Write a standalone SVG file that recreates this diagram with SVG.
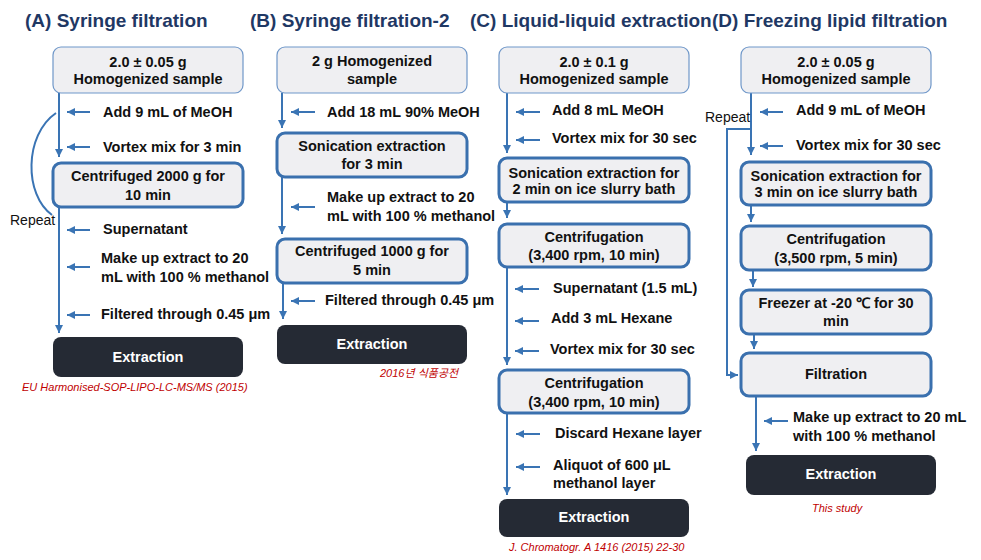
<svg xmlns="http://www.w3.org/2000/svg" width="981" height="560" viewBox="0 0 981 560">
<defs>
<marker id="ah" viewBox="0 0 8 8" refX="8" refY="4" markerWidth="8" markerHeight="8" markerUnits="userSpaceOnUse" orient="auto">
<path d="M0,0 L8,4 L0,8 z" fill="#3a74b4"/>
</marker>
<style>
.title{font-family:"Liberation Sans",Arial,sans-serif;font-weight:bold;font-size:19px;fill:#1f3864}
.t{font-family:"Liberation Sans",Arial,sans-serif;font-weight:bold;font-size:14.5px;fill:#111}
.c{text-anchor:middle}
.w{fill:#ffffff;font-size:14.5px}
.rep{font-family:"Liberation Sans",Arial,sans-serif;font-size:14px;fill:#111}
.cite{font-family:"Liberation Sans",Arial,"Noto Sans CJK KR",sans-serif;font-style:italic;font-size:11px;fill:#c00000}
.thin{fill:#efeff2;stroke:#6f97c9;stroke-width:1.2}
.thick{fill:#efeff2;stroke:#3a70ae;stroke-width:3}
.dark{fill:#252a34}
.ln{stroke:#3a74b4;stroke-width:2;fill:none}
</style>
</defs>
<rect width="981" height="560" fill="#ffffff"/>

<text class="title" x="25" y="27">(A) Syringe filtration</text>
<text class="title" x="250" y="27">(B) Syringe filtration-2</text>
<text class="title" x="470" y="27">(C) Liquid-liquid extraction</text>
<text class="title" x="712" y="27">(D) Freezing lipid filtration</text>

<g id="connectors">
<!-- A -->
<line class="ln" x1="59" y1="93" x2="59" y2="157" marker-end="url(#ah)"/>
<line class="ln" x1="90" y1="112" x2="67" y2="112" marker-end="url(#ah)"/>
<line class="ln" x1="90" y1="147" x2="67" y2="147" marker-end="url(#ah)"/>
<path class="ln" d="M56 113 C24 135 24 195 52 215"/>
<line class="ln" x1="59" y1="207" x2="59" y2="333" marker-end="url(#ah)"/>
<line class="ln" x1="90" y1="230" x2="67" y2="230" marker-end="url(#ah)"/>
<line class="ln" x1="90" y1="267" x2="67" y2="267" marker-end="url(#ah)"/>
<line class="ln" x1="90" y1="315" x2="67" y2="315" marker-end="url(#ah)"/>
<!-- B -->
<line class="ln" x1="282" y1="93" x2="282" y2="128" marker-end="url(#ah)"/>
<line class="ln" x1="315" y1="112" x2="291" y2="112" marker-end="url(#ah)"/>
<line class="ln" x1="282" y1="177" x2="282" y2="234" marker-end="url(#ah)"/>
<line class="ln" x1="315" y1="207" x2="291" y2="207" marker-end="url(#ah)"/>
<line class="ln" x1="283" y1="283" x2="283" y2="319" marker-end="url(#ah)"/>
<line class="ln" x1="315" y1="301" x2="291" y2="301" marker-end="url(#ah)"/>
<!-- C -->
<line class="ln" x1="507" y1="93" x2="507" y2="153" marker-end="url(#ah)"/>
<line class="ln" x1="540" y1="112" x2="516" y2="112" marker-end="url(#ah)"/>
<line class="ln" x1="540" y1="140" x2="516" y2="140" marker-end="url(#ah)"/>
<line class="ln" x1="507" y1="202" x2="507" y2="218" marker-end="url(#ah)"/>
<line class="ln" x1="507" y1="267" x2="507" y2="365" marker-end="url(#ah)"/>
<line class="ln" x1="539" y1="289" x2="515" y2="289" marker-end="url(#ah)"/>
<line class="ln" x1="539" y1="321" x2="515" y2="321" marker-end="url(#ah)"/>
<line class="ln" x1="539" y1="351" x2="515" y2="351" marker-end="url(#ah)"/>
<line class="ln" x1="507" y1="413" x2="507" y2="495" marker-end="url(#ah)"/>
<line class="ln" x1="540" y1="434" x2="516" y2="434" marker-end="url(#ah)"/>
<line class="ln" x1="540" y1="467" x2="516" y2="467" marker-end="url(#ah)"/>
<!-- D -->
<line class="ln" x1="751" y1="93" x2="751" y2="155" marker-end="url(#ah)"/>
<line class="ln" x1="783" y1="112" x2="760" y2="112" marker-end="url(#ah)"/>
<line class="ln" x1="783" y1="146" x2="760" y2="146" marker-end="url(#ah)"/>
<path class="ln" d="M751 129 H727 V375 H738" marker-end="url(#ah)"/>
<line class="ln" x1="751" y1="205" x2="751" y2="222" marker-end="url(#ah)"/>
<line class="ln" x1="753" y1="270" x2="753" y2="287" marker-end="url(#ah)"/>
<line class="ln" x1="754" y1="334" x2="754" y2="349" marker-end="url(#ah)"/>
<line class="ln" x1="756" y1="396" x2="756" y2="451" marker-end="url(#ah)"/>
<line class="ln" x1="788" y1="421" x2="764" y2="421" marker-end="url(#ah)"/>
</g>

<g id="labels">
<text class="rep" x="10" y="225">Repeat</text>
<text class="t" x="103" y="117">Add  9 mL of MeOH</text>
<text class="t" x="103" y="152">Vortex mix for 3 min</text>
<text class="t" x="103" y="234">Supernatant</text>
<text class="t" x="101" y="263">Make up extract to 20</text>
<text class="t" x="101" y="282">mL with 100 % methanol</text>
<text class="t" x="101" y="319">Filtered through 0.45 μm</text>
<text class="cite" x="22" y="391">EU Harmonised-SOP-LIPO-LC-MS/MS (2015)</text>

<text class="t" x="327" y="117">Add  18 mL 90% MeOH</text>
<text class="t" x="327" y="202">Make up extract to 20</text>
<text class="t" x="327" y="221">mL with 100 % methanol</text>
<text class="t" x="325" y="305">Filtered through 0.45 μm</text>
<text class="cite" x="380" y="377">2016년 식품공전</text>

<text class="t" x="552" y="115">Add  8 mL MeOH</text>
<text class="t" x="552" y="143">Vortex mix for 30 sec</text>
<text class="t" x="553" y="293">Supernatant (1.5 mL)</text>
<text class="t" x="551" y="323">Add  3 mL Hexane</text>
<text class="t" x="550" y="354">Vortex mix for 30 sec</text>
<text class="t" x="555" y="438">Discard Hexane layer</text>
<text class="t" x="553" y="470">Aliquot of 600 μL</text>
<text class="t" x="553" y="488">methanol layer</text>
<text class="cite" x="509" y="551">J. Chromatogr. A 1416 (2015) 22-30</text>

<text class="rep" x="705" y="122">Repeat</text>
<text class="t" x="796" y="115">Add  9 mL of MeOH</text>
<text class="t" x="796" y="150">Vortex mix for 30 sec</text>
<text class="t" x="793" y="422">Make up extract to 20 mL</text>
<text class="t" x="793" y="441">with 100 % methanol</text>
<text class="cite" x="812" y="512">This study</text>
</g>

<g id="A1"><rect class="thin" x="53" y="47" width="190" height="46" rx="8"/><text class="t c" x="148" y="67">2.0 ± 0.05 g</text><text class="t c" x="148" y="84">Homogenized sample</text></g>
<g id="A2"><rect class="thick" x="53" y="163" width="190" height="44" rx="8"/><text class="t c" x="148" y="181">Centrifuged 2000 g for</text><text class="t c" x="148" y="200">10 min</text></g>
<g id="A3"><rect class="dark" x="53" y="337" width="190" height="40" rx="8"/><text class="t c w" x="148" y="362">Extraction</text></g>

<g id="B1"><rect class="thin" x="277" y="47" width="190" height="46" rx="8"/><text class="t c" x="372" y="66">2 g Homogenized</text><text class="t c" x="372" y="84">sample</text></g>
<g id="B2"><rect class="thick" x="277" y="133" width="190" height="44" rx="8"/><text class="t c" x="372" y="151">Sonication extraction</text><text class="t c" x="372" y="169">for 3 min</text></g>
<g id="B3"><rect class="thick" x="277" y="239" width="190" height="44" rx="8"/><text class="t c" x="372" y="256">Centrifuged 1000 g for</text><text class="t c" x="372" y="275">5 min</text></g>
<g id="B4"><rect class="dark" x="277" y="325" width="190" height="39" rx="8"/><text class="t c w" x="372" y="349">Extraction</text></g>

<g id="C1"><rect class="thin" x="499" y="47" width="190" height="46" rx="8"/><text class="t c" x="594" y="67">2.0 ± 0.1 g</text><text class="t c" x="594" y="84">Homogenized sample</text></g>
<g id="C2"><rect class="thick" x="499" y="158" width="190" height="44" rx="8"/><text class="t c" x="594" y="178">Sonication extraction for</text><text class="t c" x="594" y="194">2 min on ice slurry bath</text></g>
<g id="C3"><rect class="thick" x="499" y="224" width="190" height="43" rx="8"/><text class="t c" x="594" y="242">Centrifugation</text><text class="t c" x="594" y="260">(3,400 rpm, 10 min)</text></g>
<g id="C4"><rect class="thick" x="499" y="370" width="190" height="43" rx="8"/><text class="t c" x="594" y="388">Centrifugation</text><text class="t c" x="594" y="407">(3,400 rpm, 10 min)</text></g>
<g id="C5"><rect class="dark" x="499" y="499" width="190" height="38" rx="8"/><text class="t c w" x="594" y="522">Extraction</text></g>

<g id="D1"><rect class="thin" x="741" y="47" width="190" height="46" rx="8"/><text class="t c" x="836" y="67">2.0 ± 0.05 g</text><text class="t c" x="836" y="84">Homogenized sample</text></g>
<g id="D2"><rect class="thick" x="741" y="162" width="190" height="43" rx="8"/><text class="t c" x="836" y="181">Sonication extraction for</text><text class="t c" x="836" y="197">3 min on ice slurry bath</text></g>
<g id="D3"><rect class="thick" x="741" y="226" width="190" height="44" rx="8"/><text class="t c" x="836" y="244">Centrifugation</text><text class="t c" x="836" y="263">(3,500 rpm, 5 min)</text></g>
<g id="D4"><rect class="thick" x="741" y="290" width="190" height="44" rx="8"/><text class="t c" x="836" y="308">Freezer at -20 ℃ for 30</text><text class="t c" x="836" y="326">min</text></g>
<g id="D5"><rect class="thick" x="741" y="353" width="190" height="43" rx="8"/><text class="t c" x="836" y="379">Filtration</text></g>
<g id="D6"><rect class="dark" x="746" y="455" width="190" height="40" rx="8"/><text class="t c w" x="841" y="479">Extraction</text></g>
</svg>
